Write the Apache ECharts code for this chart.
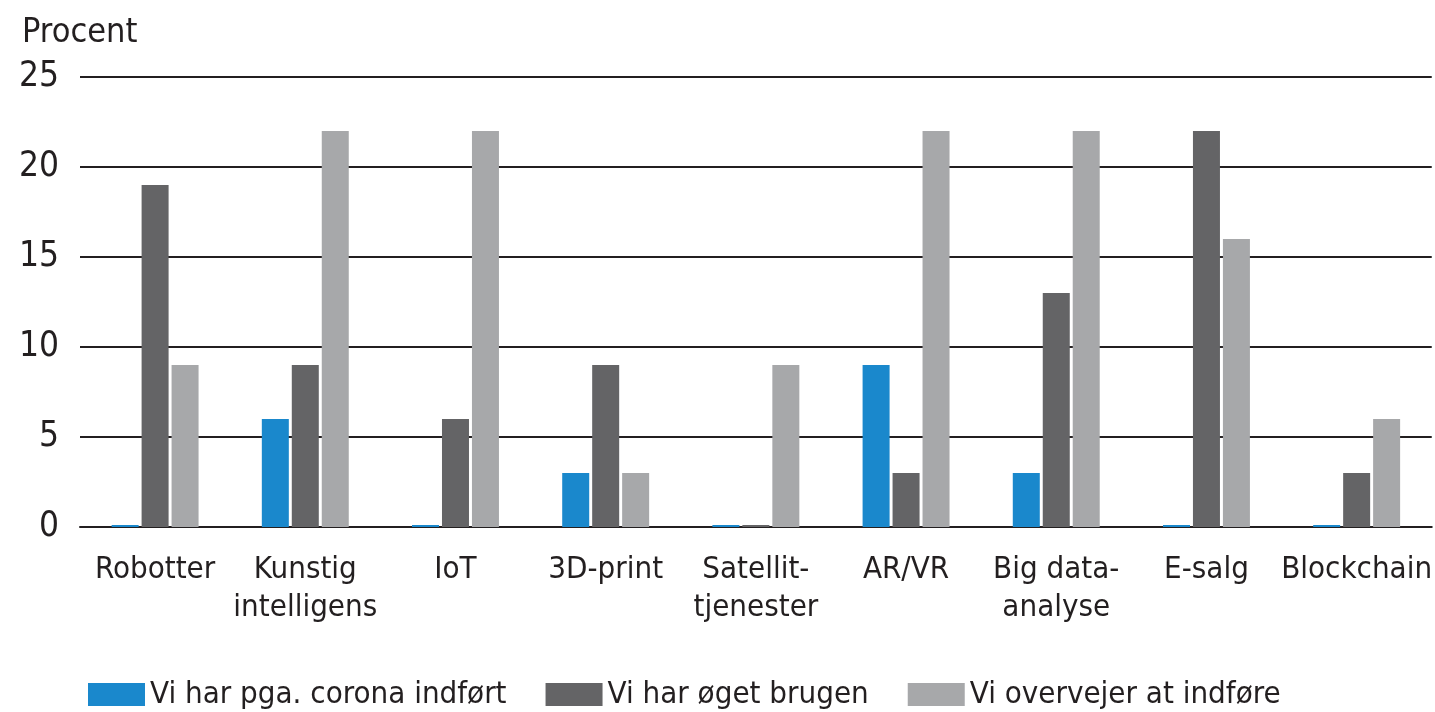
<!DOCTYPE html>
<html>
<head>
<meta charset="utf-8">
<script src="https://cdn.jsdelivr.net/npm/echarts@6/dist/echarts.min.js"></script>
<style>html,body{margin:0;padding:0;background:#fff;overflow:hidden;}#c{width:1435px;height:712px;}</style>
</head>
<body>
<div id="c"></div>
<script>
const categories = ['Robotter', 'Kunstig\nintelligens', 'IoT', '3D-print', 'Satellit-\ntjenester', 'AR/VR', 'Big data-\nanalyse', 'E-salg', 'Blockchain'];
const seriesNames = ['Vi har pga. corona indført', 'Vi har øget brugen', 'Vi overvejer at indføre'];
const coronaIndfort = [0, 6, 0, 3, 0, 9, 3, 0, 0];
const oegetBrugen = [19, 9, 6, 9, 0, 3, 13, 22, 3];
const overvejer = [9, 22, 22, 3, 9, 22, 22, 16, 6];
const yTicks = [0, 5, 10, 15, 20, 25];

const FONT = "'Liberation Sans Narrow', 'DejaVu Sans Condensed', 'Open Sans', sans-serif";
const colors = ['#1a88cc', '#646466', '#a7a8aa'];
const chart = echarts.init(document.getElementById('c'), null, { width: 1435, height: 712 });
const mk = (name, data, i) => ({
  name, type: 'bar', data, barWidth: 27, barGap: '11%', barMinHeight: 2,
  itemStyle: { color: colors[i] }
});
chart.setOption({
  animation: false,
  textStyle: { fontFamily: FONT, color: '#231f20' },
  title: { text: 'Procent', left: 17, top: 11, textStyle: { fontFamily: FONT, fontSize: 34, fontWeight: 'normal', color: '#231f20' } },
  legend: {
    left: 83, top: 674, itemWidth: 57, itemHeight: 23, itemGap: 39,
    icon: 'rect',
    textStyle: { fontFamily: FONT, fontSize: 31, color: '#231f20' },
    data: seriesNames
  },
  grid: { left: 80, right: 1, top: 77, bottom: 185, containLabel: false },
  xAxis: {
    type: 'category', data: categories,
    axisLine: { show: true, lineStyle: { color: '#231f20', width: 2 } },
    axisTick: { show: false },
    axisLabel: { fontFamily: FONT, fontSize: 31, color: '#231f20', margin: 24, lineHeight: 38, interval: 0 }
  },
  yAxis: {
    type: 'value', min: yTicks[0], max: yTicks[yTicks.length - 1], interval: 5,
    axisLine: { show: false }, axisTick: { show: false },
    axisLabel: { fontFamily: FONT, fontSize: 35, color: '#231f20', margin: 21 },
    splitLine: { lineStyle: { color: '#231f20', width: 2 } }
  },
  series: [mk(seriesNames[0], coronaIndfort, 0), mk(seriesNames[1], oegetBrugen, 1), mk(seriesNames[2], overvejer, 2)]
});
</script>
</body>
</html>
